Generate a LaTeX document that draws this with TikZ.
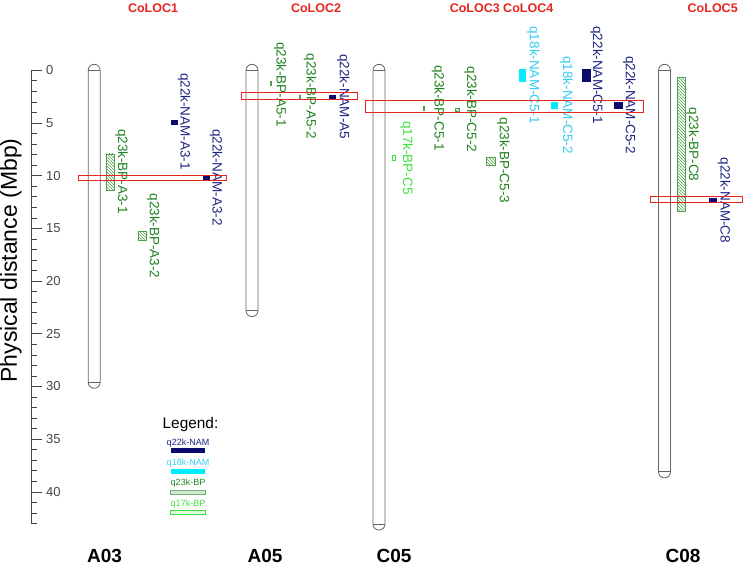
\documentclass[tikz,border=0pt]{standalone}
\usepackage{fontspec}
\setmainfont{Liberation Sans}
\usetikzlibrary{patterns}

\definecolor{coloc}{RGB}{232,36,30}
\definecolor{namdark}{RGB}{12,12,112}
\definecolor{namtext}{RGB}{30,36,130}
\definecolor{namcyan}{RGB}{0,236,255}
\definecolor{cyantext}{RGB}{50,205,240}
\definecolor{bpgreen}{RGB}{80,160,80}
\definecolor{bptext}{RGB}{30,130,30}
\definecolor{bplight}{RGB}{60,225,60}
\definecolor{chrgray}{RGB}{100,100,100}

\tikzset{
  chrom/.style={draw=chrgray, line width=0.8pt},
  colocbox/.style={draw=coloc, line width=1pt},
  nam22/.style={fill=namdark},
  nam18/.style={fill=namcyan},
  bp23/.style={draw=bpgreen, pattern=north west lines, pattern color=bpgreen, line width=0.6pt},
  bp17/.style={draw=bplight, line width=0.6pt},
  legbar/.style={line width=1pt},
  qlabel/.style={rotate=-90, inner sep=0pt, font=\fontsize{13.5}{14}\selectfont},
  chrname/.style={font=\bfseries\fontsize{19}{20}\selectfont},
  colocname/.style={text=coloc, font=\bfseries\fontsize{12.5}{13}\selectfont},
  legtext/.style={inner sep=0pt, font=\fontsize{9}{10}\selectfont},
}

\begin{document}
\begin{tikzpicture}[x=1pt, y=-10.54pt]
    \useasboundingbox (0,-6.67) rectangle (743,47.03);

    % axis
    \draw[chrgray!70!black, line width=0.7pt] (31.7,0) -- (31.7,43);
    \foreach \t in {0,...,43}
        \draw[chrgray!70!black, line width=0.7pt] (31.7,\t) -- +(5,0);
    \foreach \t in {0,5,...,40}
        \draw[chrgray!70!black, line width=0.7pt] (31.7,\t) -- +(10,0)
            node[anchor=west, inner sep=0pt, xshift=4pt, font=\fontsize{13}{14}\selectfont] (tick\t) {\t};
    \node[rotate=90, font=\fontsize{23}{24}\selectfont] (ytitle) at (11,18.05) {Physical distance (Mbp)};

    % chromosomes
    \draw[chrom] (88.2,0) arc[start angle=180, end angle=0, radius=6pt] -- (100.2,29.6)
        arc[start angle=0, end angle=-180, radius=6pt] -- cycle;
    \draw[chrom] (88.2,0) -- (100.2,0) (88.2,29.6) -- (100.2,29.6);
    \draw[chrom] (246,0) arc[start angle=180, end angle=0, radius=6pt] -- (258,22.8)
        arc[start angle=0, end angle=-180, radius=6pt] -- cycle;
    \draw[chrom] (246,0) -- (258,0) (246,22.8) -- (258,22.8);
    \draw[chrom] (373,0) arc[start angle=180, end angle=0, radius=6pt] -- (385,43.05)
        arc[start angle=0, end angle=-180, radius=6pt] -- cycle;
    \draw[chrom] (373,0) -- (385,0) (373,43.05) -- (385,43.05);
    \draw[chrom] (658.5,0) arc[start angle=180, end angle=0, radius=6pt] -- (670.5,38.1)
        arc[start angle=0, end angle=-180, radius=6pt] -- cycle;
    \draw[chrom] (658.5,0) -- (670.5,0) (658.5,38.1) -- (670.5,38.1);

    \node[chrname] (nA03) at (104.5,46.08) {A03};
    \node[chrname] (nA05) at (265,46.08) {A05};
    \node[chrname] (nC05) at (394,46.08) {C05};
    \node[chrname] (nC08) at (683,46.08) {C08};

    % QTL on A03
    \draw[bp23] (106,7.94) rectangle (114.3,11.36);
    \draw[bp23] (138,15.31) rectangle (146,16.17);
    \fill[nam22] (170.7,4.72) rectangle (178,5.16);
    \fill[nam22] (202.7,10.0) rectangle (210,10.41);
    \node[qlabel, text=bptext] (lA3bp1) at (121.7,9.6) {q23k-BP-A3-1};
    \node[qlabel, text=bptext] (lA3bp2) at (153.3,15.72) {q23k-BP-A3-2};
    \node[qlabel, text=namtext] (lA3nam1) at (184,4.85) {q22k-NAM-A3-1};
    \node[qlabel, text=namtext] (lA3nam2) at (216,10.17) {q22k-NAM-A3-2};

    % QTL on A05
    \draw[bp23] (270.2,1.08) rectangle (271.2,1.46);
    \draw[bp23] (299.5,2.34) rectangle (300.5,2.72);
    \fill[nam22] (329,2.37) rectangle (336,2.69);
    \node[qlabel, text=bptext] (lA5bp1) at (280,1.35) {q23k-BP-A5-1};
    \node[qlabel, text=bptext] (lA5bp2) at (310,2.47) {q23k-BP-A5-2};
    \node[qlabel, text=namtext] (lA5nam) at (343.3,2.5) {q22k-NAM-A5};

    % QTL on C05
    \draw[bp17] (392.3,8.04) rectangle (395.7,8.51);
    \draw[bp23] (423.5,3.45) rectangle (424.7,3.83);
    \draw[bp23] (455,3.6) rectangle (459.5,3.93);
    \draw[bp23] (486.7,8.25) rectangle (495.3,8.98);
    \fill[nam18] (519,-0.1) rectangle (526,1.08);
    \fill[nam18] (551,3.05) rectangle (558.3,3.7);
    \fill[nam22] (582.3,-0.12) rectangle (590.7,1.08);
    \fill[nam22] (614,3.05) rectangle (622.7,3.7);
    \node[qlabel, text=bplight] (lC5bp17) at (406.7,8.3) {q17k-BP-C5};
    \node[qlabel, text=bptext] (lC5bp1) at (438,3.56) {q23k-BP-C5-1};
    \node[qlabel, text=bptext] (lC5bp2) at (470.7,3.7) {q23k-BP-C5-2};
    \node[qlabel, text=bptext] (lC5bp3) at (503.3,8.55) {q23k-BP-C5-3};
    \node[qlabel, text=cyantext] (lC5n18a) at (533.3,0.47) {q18k-NAM-C5-1};
    \node[qlabel, text=cyantext] (lC5n18b) at (566.7,3.3) {q18k-NAM-C5-2};
    \node[qlabel, text=namtext] (lC5n22a) at (596.7,0.47) {q22k-NAM-C5-1};
    \node[qlabel, text=namtext] (lC5n22b) at (629.3,3.3) {q22k-NAM-C5-2};

    % QTL on C08
    \draw[bp23] (677.3,0.7) rectangle (685.7,13.42);
    \fill[nam22] (709.3,12.14) rectangle (717.3,12.52);
    \node[qlabel, text=bptext] (lC8bp) at (692.7,7.06) {q23k-BP-C8};
    \node[qlabel, text=namtext] (lC8nam) at (724,12.33) {q22k-NAM-C8};

    % legend
    \node[font=\fontsize{15.4}{16}\selectfont] (legend) at (190.5,33.65) {Legend:};
    \node[legtext, text=namtext] (leg22) at (188,35.39) {q22k-NAM};
    \fill[nam22] (170.7,35.86) rectangle (205.3,36.34);
    \node[legtext, text=cyantext] (leg18) at (188,37.29) {q18k-NAM};
    \fill[nam18] (170.7,37.86) rectangle (205.3,38.3);
    \node[legtext, text=bptext] (leg23) at (188,39.18) {q23k-BP};
    \draw[legbar, draw=bpgreen!80, fill=bpgreen!25] (170.5,39.867) rectangle (205.5,40.247);
    \node[legtext, text=bplight] (leg17) at (188,41.15) {q17k-BP};
    \draw[legbar, draw=bplight, fill=bplight!15] (170.5,41.765) rectangle (205.5,42.144);

    % co-localisation boxes
    \draw[colocbox] (78.5,9.981) rectangle (226.5,10.455);
    \draw[colocbox] (241.5,2.106) rectangle (357.5,2.770);
    \draw[colocbox] (365.5,2.865) rectangle (643.5,4.004);
    \draw[colocbox] (650.5,11.973) rectangle (742.5,12.543);
    \node[colocname] (coloc1) at (153,-5.92) {CoLOC1};
    \node[colocname] (coloc2) at (316,-5.92) {CoLOC2};
    \node[colocname] (coloc34) at (501.5,-5.92) {CoLOC3 CoLOC4};
    \node[colocname] (coloc5) at (712.7,-5.92) {CoLOC5};
\end{tikzpicture}
\end{document}
